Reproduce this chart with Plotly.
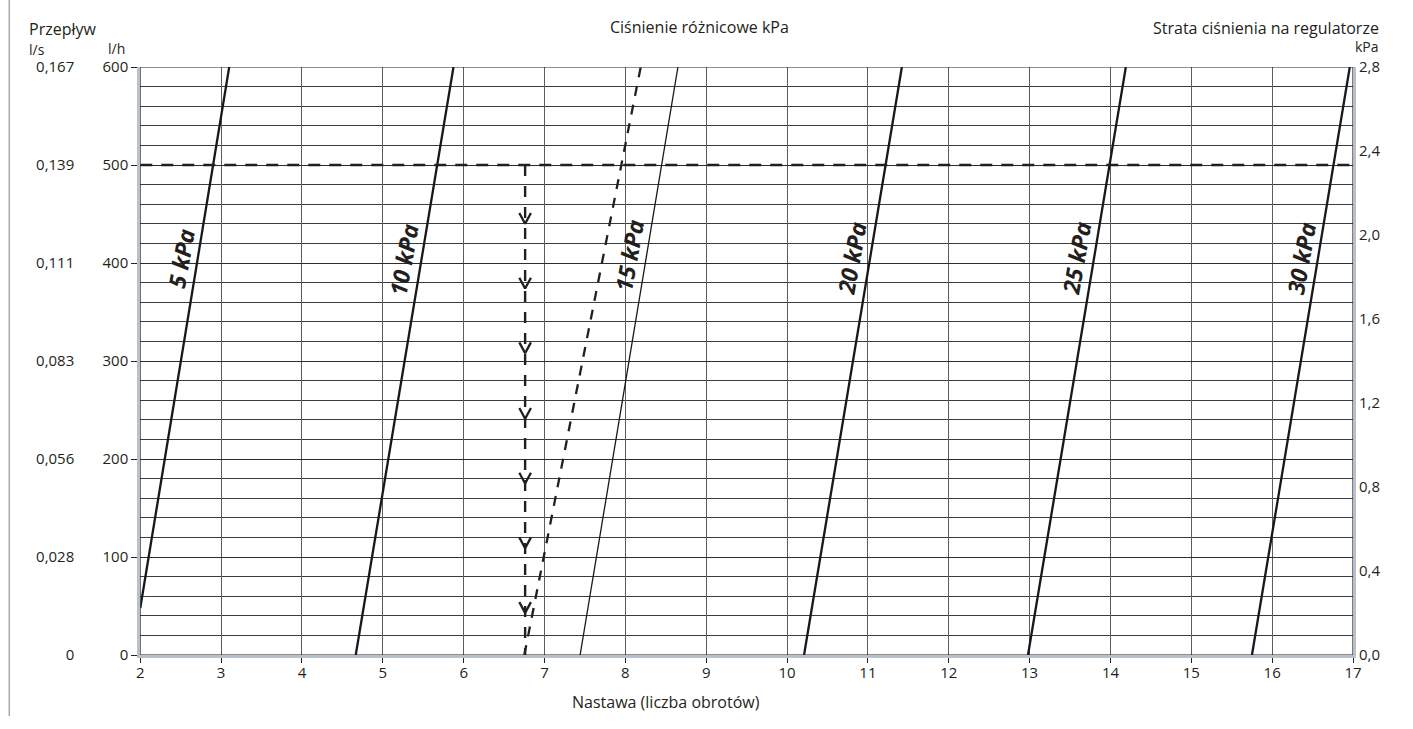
import plotly.graph_objects as go

W, H = 1413, 729

# ---- data ----
series_names = ["5 kPa", "10 kPa", "15 kPa", "20 kPa", "25 kPa", "30 kPa"]
x_start = [2.0, 4.665, 7.44, 10.21, 12.98, 15.75]
x_end = [3.10, 5.874, 8.65, 11.42, 14.19, 16.96]
flow_start = [48, 0, 0, 0, 0, 0]
flow_end = [600, 600, 600, 600, 600, 600]
line_widths = [2.3, 2.3, 1.3, 2.3, 2.3, 2.3]

label_x = [2.506, 5.259, 8.05, 10.80, 13.58, 16.36]
label_flow = [405, 403, 408, 405, 405, 405]

example_x = [6.75, 8.19]
example_flow = [0, 600]
design_flow = 500
setting_x = 6.76
arrow_flows = [440, 374, 308, 241, 175, 109, 43]

flow_ticks = [0, 100, 200, 300, 400, 500, 600]
ls_ticks = ["0", "0,028", "0,056", "0,083", "0,111", "0,139", "0,167"]
x_ticks = list(range(2, 18))

FONT = "Open Sans"
INK = "#231f20"


def hx(t):
    # horizontal page-pixel calibration
    return (t - 3.7) / 0.991 / W


fig = go.Figure()

for i, name in enumerate(series_names):
    fig.add_trace(go.Scatter(
        x=[x_start[i], x_end[i]], y=[flow_start[i], flow_end[i]],
        mode="lines", line=dict(color="#15191e", width=line_widths[i]),
        showlegend=False, hoverinfo="skip", name=name))

# example dashed slanted line
fig.add_trace(go.Scatter(x=example_x, y=example_flow, mode="lines",
                         line=dict(color=INK, width=2.3, dash="10px,9px"),
                         showlegend=False, hoverinfo="skip"))
# horizontal dashed at design flow
fig.add_trace(go.Scatter(x=[x_ticks[0], x_ticks[-1]], y=[design_flow, design_flow], mode="lines",
                         line=dict(color=INK, width=2.6, dash="12px,9px"),
                         showlegend=False, hoverinfo="skip"))
# vertical dashed at setting
fig.add_trace(go.Scatter(x=[setting_x, setting_x], y=[design_flow, 0], mode="lines",
                         line=dict(color=INK, width=2.4, dash="11px,10px"),
                         showlegend=False, hoverinfo="skip"))

# arrow chevrons ("v") on the vertical dashed line
HALF_W = 0.072   # x units (~6 px)
HEAD_H = 11.0    # l/h units (~11 px)
cx, cy = [], []
for f in arrow_flows:
    cx += [setting_x - HALF_W, setting_x, setting_x + HALF_W, None]
    cy += [f + HEAD_H, f, f + HEAD_H, None]
fig.add_trace(go.Scatter(x=cx, y=cy, mode="lines",
                         line=dict(color=INK, width=2.3),
                         showlegend=False, hoverinfo="skip"))

# right axis dummy trace
fig.add_trace(go.Scatter(x=[2, 17], y=[0, 2.8], yaxis="y2", mode="markers",
                         marker=dict(opacity=0), showlegend=False, hoverinfo="skip"))
# l/s axis dummy trace
fig.add_trace(go.Scatter(x=[2, 17], y=[0, 600], yaxis="y3", mode="markers",
                         marker=dict(opacity=0), showlegend=False, hoverinfo="skip"))

top_px, bot_px = 67, 655
ph = bot_px - top_px


def py(v):
    return (bot_px - v) / ph


annotations = []
for i, name in enumerate(series_names):
    annotations.append(dict(x=label_x[i], y=label_flow[i], xref="x", yref="y", text=name,
                            showarrow=False, textangle=-80,
                            font=dict(family=FONT, size=23, color=INK, weight="bold", style="italic")))

tfont = dict(family=FONT, size=16, color=INK)
sfont = dict(family=FONT, size=14, color=INK)
kfont = dict(family=FONT, size=15, color=INK)
annotations += [
    dict(x=hx(27), y=py(29), xref="paper", yref="paper", text="Przepływ", showarrow=False,
         xanchor="left", yanchor="middle", font=tfont),
    dict(x=hx(27), y=py(50), xref="paper", yref="paper", text="l/s", showarrow=False,
         xanchor="left", yanchor="middle", font=sfont),
    dict(x=hx(106), y=py(48), xref="paper", yref="paper", text="l/h", showarrow=False,
         xanchor="left", yanchor="middle", font=sfont),
    dict(x=hx(608), y=py(27), xref="paper", yref="paper", text="Ciśnienie różnicowe kPa",
         showarrow=False, xanchor="left", yanchor="middle", font=tfont),
    dict(x=hx(1381), y=py(28), xref="paper", yref="paper", text="Strata ciśnienia na regulatorze",
         showarrow=False, xanchor="right", yanchor="middle", font=tfont),
    dict(x=hx(1381), y=py(47), xref="paper", yref="paper", text="kPa",
         showarrow=False, xanchor="right", yanchor="middle", font=sfont),
    dict(x=hx(666), y=py(702), xref="paper", yref="paper", text="Nastawa (liczba obrotów)",
         showarrow=False, xanchor="center", yanchor="middle", font=tfont),
]

shapes = [
    dict(type="line", xref="paper", yref="paper", x0=hx(9), x1=hx(9), y0=py(716), y1=py(0),
         line=dict(color="#a7a9ac", width=1.5)),
    dict(type="rect", xref="x", yref="y", x0=2, x1=17, y0=0, y1=600,
         line=dict(color=INK, width=1.2), layer="above"),
]

fig.update_layout(
    width=W, height=H, autosize=False,
    margin=dict(l=0, r=0, t=top_px, b=H - bot_px),
    paper_bgcolor="white", plot_bgcolor="white",
    separators=", ",
    font=dict(family=FONT, size=15, color=INK),
    showlegend=False,
    annotations=annotations,
    shapes=shapes,
    xaxis=dict(domain=[hx(140), hx(1353)], range=[2, 17], tickvals=x_ticks, showgrid=True,
               gridcolor="#5a5d60", gridwidth=1, zeroline=False,
               showline=True, linecolor="#b8c1c9", linewidth=3,
               ticks="outside", ticklen=5, tickcolor=INK, tickwidth=1,
               ticklabelstandoff=-3, tickfont=kfont, fixedrange=True),
    yaxis=dict(range=[0, 600], tickvals=flow_ticks, showgrid=True,
               gridcolor="#2b2d30", gridwidth=1, zeroline=False,
               minor=dict(dtick=20, showgrid=True, gridcolor="#3a3c3f", gridwidth=1),
               showline=True, linecolor="#b8c1c9", linewidth=3,
               ticks="outside", ticklen=6, tickcolor=INK, tickwidth=1,
               tickfont=kfont, fixedrange=True),
    yaxis2=dict(range=[0, 2.8], dtick=0.4, tick0=0, tickformat=".1f", overlaying="y",
                side="right", anchor="x", showgrid=False, zeroline=False,
                showline=True, linecolor="#b8c1c9", linewidth=3, ticks="",
                tickfont=kfont, fixedrange=True),
    yaxis3=dict(range=[0, 600], tickvals=flow_ticks, ticktext=ls_ticks, overlaying="y",
                anchor="free", position=hx(74), side="left", showgrid=False,
                zeroline=False, showline=False, ticks="", tickfont=kfont, fixedrange=True),
)

fig.write_html("out.html", config=dict(displayModeBar=False),
               post_script="document.body.style.margin='0';document.body.style.overflow='hidden';")
